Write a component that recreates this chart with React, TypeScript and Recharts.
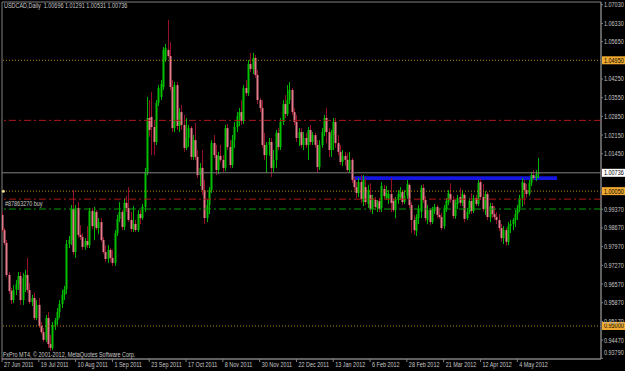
import { ComposedChart, Bar, XAxis, YAxis, ReferenceLine, ReferenceArea, ReferenceDot } from "recharts";

const FONT = "'Liberation Sans', Arial, sans-serif";
const SQUEEZE = 0.78;

// USDCAD daily, 27 Jun 2011 .. 17 May 2012
const opens = [
  0.9916, 0.9859, 0.9811, 0.9691, 0.9631, 0.9597, 0.9635, 0.9657, 0.9687, 0.9597,
  0.968, 0.9691, 0.9635, 0.959, 0.9605, 0.953, 0.9579, 0.95, 0.9477, 0.9448,
  0.953, 0.9432, 0.9418, 0.9504, 0.9522, 0.9552, 0.9582, 0.9616, 0.9638, 0.9807,
  0.9822, 0.9938, 0.9777, 0.9942, 0.9841, 0.9833, 0.9796, 0.9818, 0.9803, 0.9931,
  0.9874, 0.9927, 0.9867, 0.9889, 0.9822, 0.9777, 0.9751, 0.9785, 0.9755, 0.9736,
  0.9848, 0.9901, 0.9927, 0.9871, 0.9961, 0.9942, 0.9897, 0.9863, 0.9882, 0.9859,
  0.9919, 0.9904, 0.9946, 1.0077, 1.0279, 1.0283, 1.0245, 1.0189, 1.0335, 1.0358,
  1.0395, 1.0496, 1.0534, 1.0511, 1.0395, 1.0241, 1.0402, 1.0249, 1.0301, 1.0253,
  1.0167, 1.0204, 1.0241, 1.0133, 1.0196, 1.0133, 1.0065, 1.0092, 1.0009, 0.9904,
  0.9953, 1.0009, 1.0185, 1.014, 1.0084, 1.0137, 1.0122, 1.0092, 1.0241, 1.017,
  1.0103, 1.0196, 1.0245, 1.0286, 1.0301, 1.0268, 1.0391, 1.0372, 1.0481, 1.0462,
  1.0504, 1.044, 1.0346, 1.0316, 1.0178, 1.014, 1.0178, 1.0189, 1.0092, 1.0122,
  1.0223, 1.017, 1.0264, 1.0331, 1.0294, 1.0346, 1.0384, 1.0301, 1.0264, 1.0204,
  1.0226, 1.0178, 1.0204, 1.0178, 1.0234, 1.0189, 1.0215, 1.0178, 1.0095, 1.0178,
  1.0226, 1.0279, 1.0226, 1.0159, 1.0215, 1.0264, 1.0185, 1.0152, 1.0114, 1.0137,
  1.0122, 1.0084, 1.0122, 1.0047, 1.002, 0.9998, 1.0039, 0.9964, 1.002, 0.9957,
  0.9991, 0.9938, 0.9972, 0.9942, 0.9968, 0.9942, 1.0013, 0.9979, 0.9976, 0.9994,
  0.9968, 0.9934, 0.9972, 0.9983, 1.0002, 0.9964, 0.9987, 1.0028, 0.9953, 0.9897,
  0.9856, 0.9904, 0.9927, 1.0017, 0.9972, 0.9897, 0.9934, 0.9889, 0.9931, 0.9946,
  0.9916, 0.9908, 0.9874, 0.9938, 0.9964, 0.9994, 0.9972, 0.9912, 0.9957, 0.9983,
  0.9961, 0.9991, 0.9904, 0.9927, 0.9968, 0.9931, 0.9979, 0.9957, 1.0039, 0.9983,
  0.9938, 0.9994, 0.9908, 0.9949, 0.9919, 0.9908, 0.9897, 0.9867, 0.9829, 0.9859,
  0.9815, 0.9874, 0.9882, 0.9897, 0.9919, 0.9942, 0.9979, 1.0035, 1.0009, 0.9994,
  1.0035, 1.0065, 1.0054, 1.00696,
];

const highs = [
  0.9927, 0.9867, 0.9822, 0.9702, 0.9642, 0.9653, 0.9672, 0.9702, 0.9702, 0.9698,
  0.971, 0.9755, 0.9661, 0.9616, 0.9624, 0.9597, 0.9605, 0.9515, 0.9492, 0.9541,
  0.9552, 0.9466, 0.9515, 0.953, 0.9567, 0.9597, 0.9635, 0.965, 0.9822, 0.9837,
  0.9953, 1.0009, 0.9953, 0.9964, 0.9878, 0.9848, 0.9829, 0.9874, 0.9942, 0.9942,
  0.9946, 0.9934, 0.9904, 0.9904, 0.9833, 0.9803, 0.9803, 0.9792, 0.9785, 0.9859,
  0.9916, 0.9964, 0.9934, 0.9979, 0.9987, 1.002, 0.9927, 0.9949, 0.9897, 0.9934,
  0.9934, 0.9957, 1.0092, 1.0358, 1.0346, 1.0376, 1.0271, 1.0346, 1.0402, 1.0421,
  1.0545, 1.0556, 1.0646, 1.0563, 1.0421, 1.0414, 1.0414, 1.0316, 1.0328, 1.029,
  1.0279, 1.0253, 1.0249, 1.0215, 1.026, 1.0159, 1.011, 1.0159, 1.0047, 0.9972,
  1.002, 1.0196, 1.0215, 1.0178, 1.0152, 1.0178, 1.014, 1.0253, 1.0256, 1.0196,
  1.0215, 1.0264, 1.0301, 1.0316, 1.0346, 1.0402, 1.0421, 1.0496, 1.0522, 1.0522,
  1.0515, 1.0459, 1.0354, 1.0346, 1.0223, 1.0189, 1.0204, 1.0204, 1.0159, 1.0234,
  1.0241, 1.0279, 1.0346, 1.0365, 1.0402, 1.0414, 1.0391, 1.0316, 1.029, 1.0241,
  1.0241, 1.0226, 1.0223, 1.0245, 1.0253, 1.0226, 1.0223, 1.0196, 1.0196, 1.0241,
  1.029, 1.0316, 1.0241, 1.0234, 1.0279, 1.0279, 1.0215, 1.0178, 1.0159, 1.0152,
  1.0148, 1.0152, 1.0129, 1.0058, 1.0039, 1.0054, 1.0065, 1.0065, 1.0054, 1.0028,
  1.0035, 0.9991, 0.9983, 0.9972, 0.9979, 1.0039, 1.0028, 1.0024, 1.0009, 1.0054,
  0.9979, 0.9983, 1.0009, 1.002, 1.0009, 1.0009, 1.0047, 1.0035, 0.9964, 0.9916,
  0.9919, 0.9953, 1.0028, 1.0032, 0.9987, 0.9953, 0.9942, 0.9946, 0.9957, 0.9953,
  0.9942, 0.9923, 0.9953, 0.9979, 1.0009, 1.0035, 0.9987, 0.9972, 0.9991, 1.0017,
  1.0009, 0.9998, 0.9942, 0.9979, 0.9998, 0.9991, 0.9991, 1.0047, 1.005, 1.0032,
  1.0005, 1.0002, 0.9961, 0.9961, 0.9949, 0.9927, 0.9919, 0.9882, 0.9874, 0.9867,
  0.9889, 0.9897, 0.9904, 0.9934, 0.9953, 0.9991, 1.0054, 1.0047, 1.0032, 1.0047,
  1.0077, 1.0084, 1.0084, 1.01291,
];

const lows = [
  0.9852, 0.9803, 0.9683, 0.962, 0.9582, 0.9586, 0.9616, 0.9635, 0.9579, 0.9579,
  0.9627, 0.9624, 0.9582, 0.9575, 0.9522, 0.9522, 0.9492, 0.947, 0.944, 0.944,
  0.9418, 0.9406, 0.941, 0.9485, 0.9504, 0.953, 0.9567, 0.9597, 0.962, 0.9792,
  0.9803, 0.9766, 0.9755, 0.9829, 0.9822, 0.9785, 0.9785, 0.9792, 0.9792, 0.9863,
  0.9822, 0.9859, 0.9844, 0.9815, 0.977, 0.974, 0.9736, 0.974, 0.9725, 0.9725,
  0.9837, 0.9889, 0.9859, 0.9859, 0.9927, 0.9889, 0.9852, 0.9852, 0.9852, 0.9852,
  0.9882, 0.9897, 0.9927, 1.0065, 1.0208, 1.014, 1.014, 1.0178, 1.0324, 1.0346,
  1.0384, 1.0489, 1.0504, 1.0384, 1.0226, 1.0226, 1.0234, 1.0226, 1.0234, 1.0152,
  1.0159, 1.017, 1.0122, 1.0122, 1.0122, 1.0054, 1.0024, 0.9991, 0.9882, 0.9889,
  0.9919, 0.9998, 1.0129, 1.0065, 1.0069, 1.0114, 1.0077, 1.008, 1.0159, 1.0092,
  1.0092, 1.0167, 1.0226, 1.0249, 1.0253, 1.0256, 1.0361, 1.0361, 1.0451, 1.0444,
  1.0429, 1.0331, 1.0301, 1.0167, 1.0122, 1.0073, 1.0137, 1.0058, 1.0077, 1.0092,
  1.0159, 1.0159, 1.0253, 1.0279, 1.0286, 1.0331, 1.029, 1.0253, 1.0189, 1.0174,
  1.0167, 1.0159, 1.0167, 1.0122, 1.0178, 1.0178, 1.0167, 1.0073, 1.0084, 1.0167,
  1.0211, 1.0185, 1.0133, 1.0133, 1.0159, 1.0167, 1.014, 1.0103, 1.0099, 1.0099,
  1.0077, 1.0073, 1.0035, 1.0009, 0.9979, 0.9983, 0.9961, 0.9949, 0.9953, 0.9942,
  0.9927, 0.9919, 0.9934, 0.9927, 0.9927, 0.9927, 0.9976, 0.9972, 0.9957, 0.9927,
  0.9927, 0.9904, 0.9957, 0.9972, 0.9953, 0.9957, 0.9976, 0.9942, 0.9848, 0.9841,
  0.9837, 0.9882, 0.9904, 0.9961, 0.9893, 0.9882, 0.9878, 0.9882, 0.9919, 0.9904,
  0.9901, 0.9859, 0.9863, 0.9927, 0.9953, 0.9961, 0.9901, 0.9901, 0.9938, 0.9949,
  0.9949, 0.9889, 0.9897, 0.9919, 0.9919, 0.9923, 0.9949, 0.9949, 0.9972, 0.9927,
  0.9916, 0.9897, 0.9889, 0.9904, 0.9897, 0.9882, 0.9856, 0.9815, 0.9807, 0.98,
  0.9803, 0.9848, 0.9859, 0.9871, 0.9897, 0.9927, 0.9946, 0.9953, 0.9979, 0.9987,
  1.0024, 1.0047, 1.0043, 1.00531,
];

const closes = [
  0.9859, 0.9811, 0.9691, 0.9631, 0.9597, 0.9635, 0.9657, 0.9687, 0.9597, 0.968,
  0.9691, 0.9635, 0.959, 0.9605, 0.953, 0.9579, 0.95, 0.9477, 0.9448, 0.953,
  0.9432, 0.9418, 0.9504, 0.9522, 0.9552, 0.9582, 0.9616, 0.9638, 0.9807, 0.9822,
  0.9938, 0.9777, 0.9942, 0.9841, 0.9833, 0.9796, 0.9818, 0.9803, 0.9931, 0.9874,
  0.9927, 0.9867, 0.9889, 0.9822, 0.9777, 0.9751, 0.9785, 0.9755, 0.9736, 0.9848,
  0.9901, 0.9927, 0.9871, 0.9961, 0.9942, 0.9897, 0.9863, 0.9882, 0.9859, 0.9919,
  0.9904, 0.9946, 1.0077, 1.0279, 1.0234, 1.0245, 1.0189, 1.0335, 1.0391, 1.0406,
  1.0534, 1.0541, 1.0511, 1.0395, 1.0241, 1.0402, 1.0249, 1.0301, 1.0253, 1.0167,
  1.0204, 1.0241, 1.0133, 1.0196, 1.0133, 1.0065, 1.0092, 1.0009, 0.9904, 0.9953,
  1.0009, 1.0185, 1.014, 1.0084, 1.0137, 1.0122, 1.0092, 1.0241, 1.017, 1.0103,
  1.0196, 1.0245, 1.0286, 1.0301, 1.0268, 1.0391, 1.0372, 1.0481, 1.0462, 1.0504,
  1.044, 1.0346, 1.0316, 1.0178, 1.014, 1.0178, 1.0189, 1.0092, 1.0122, 1.0223,
  1.017, 1.0264, 1.0331, 1.0294, 1.0346, 1.0384, 1.0301, 1.0264, 1.0204, 1.0226,
  1.0178, 1.0204, 1.0178, 1.0234, 1.0189, 1.0215, 1.0178, 1.0095, 1.0178, 1.0226,
  1.0279, 1.0226, 1.0159, 1.0215, 1.0264, 1.0185, 1.0152, 1.0114, 1.0137, 1.0122,
  1.0084, 1.0122, 1.0047, 1.002, 0.9998, 1.0039, 0.9976, 1.0047, 0.9964, 1.0009,
  0.9938, 0.9979, 0.9946, 0.9961, 0.9938, 1.0024, 0.9987, 0.9998, 0.9994, 0.9961,
  0.9934, 0.9976, 0.9994, 1.0002, 0.9964, 0.9987, 1.0032, 0.9953, 0.9897, 0.9859,
  0.9908, 0.9938, 1.0017, 0.9972, 0.9904, 0.9934, 0.9889, 0.9934, 0.9946, 0.9916,
  0.9908, 0.9867, 0.9942, 0.9968, 0.9998, 0.9972, 0.9912, 0.9961, 0.9979, 0.9961,
  0.9994, 0.9901, 0.9927, 0.9968, 0.9931, 0.9979, 0.9957, 1.0035, 0.9983, 0.9938,
  0.9994, 0.9908, 0.9949, 0.9919, 0.9908, 0.9897, 0.9867, 0.9829, 0.9859, 0.9815,
  0.9874, 0.9882, 0.9897, 0.9919, 0.9942, 0.9979, 1.0039, 1.0009, 0.9994, 1.0035,
  1.0065, 1.0054, 1.0069, 1.00736,
];

const dateTicks = [0, 16, 32, 48, 64, 80, 96, 112, 128, 144, 160, 176, 192, 208, 224];
const dateLabels = [
  "27 Jun 2011", "19 Jul 2011", "10 Aug 2011", "1 Sep 2011", "23 Sep 2011",
  "17 Oct 2011", "8 Nov 2011", "30 Nov 2011", "22 Dec 2011", "13 Jan 2012",
  "6 Feb 2012", "28 Feb 2012", "21 Mar 2012", "12 Apr 2012", "4 May 2012",
];

const priceTicks = [
  1.0703, 1.0633, 1.0565, 1.0425, 1.0355, 1.0285, 1.0215, 1.0145,
  0.9937, 0.9867, 0.9797, 0.9727, 0.9657, 0.9587, 0.9517, 0.9447, 0.9379,
];

const orangeLevels = [1.0495, 1.0005, 0.95];
const redLevels = [1.027, 0.9975];
const orderLevel = 0.9938;
const lastPrice = 1.00736;
const blueZone = { from: 153, to: 241.3, low: 1.0047, high: 1.0061 };

const rows = closes.map((c, i) => ({ i, open: opens[i], high: highs[i], low: lows[i], close: c }));

const Y_MIN = 0.93763;
const Y_MAX = 1.07133;
const X_MAX = 260.4;

function Candle(props: any) {
  const { x, y, width, height, payload } = props;
  if (!payload) return null;
  const { open, close, high, low } = payload;
  const top = Math.min(y, y + height);
  const h = Math.abs(height);
  const k = h / (high - low || 1);
  const yO = top + (high - open) * k;
  const yC = top + (high - close) * k;
  const cx = Math.round(x + width / 2);
  const up = close >= open;
  const bodyTop = Math.min(yO, yC);
  const bodyH = Math.max(1, Math.abs(yC - yO));
  return (
    <g>
      <line x1={cx + 0.5} x2={cx + 0.5} y1={top} y2={top + h} stroke={up ? "#00b400" : "#96102c"} strokeWidth={1} />
      <rect x={cx - 0.5} y={bodyTop} width={2} height={bodyH} fill={up ? "#00c000" : "#e67a8a"} />
    </g>
  );
}

// small squeezed text, mimicking the terminal's narrow pixel font
function Small({ x, y, fill = "#c8c8c8", children }: any) {
  return (
    <text
      transform={`translate(${x},${y}) scale(${SQUEEZE},1)`}
      x={0}
      y={0}
      fill={fill}
      fontSize={7}
      fontFamily={FONT}
    >
      {children}
    </text>
  );
}

function PriceTick(props: any) {
  const { x, y, payload } = props;
  const dy = payload.value < 0.938 ? -6 : 0;
  return <Small x={x} y={y + 2.5 + dy}>{payload.value.toFixed(5)}</Small>;
}

function DateTick(props: any) {
  const { x, y, payload } = props;
  const label = dateLabels[dateTicks.indexOf(payload.value)];
  return <Small x={x + 2} y={y + 5}>{label}</Small>;
}

const priceBox = (text: string, bg: string) => (props: any) => {
  const vb = props.viewBox;
  if (!vb) return null;
  const x = vb.x + vb.width;
  return (
    <g>
      <rect x={x + 1} y={vb.y - 4} width={24} height={8} fill={bg} />
      <Small x={x + 3} y={vb.y + 2.5} fill="#000">{text}</Small>
    </g>
  );
};

const orderLabel = (props: any) => {
  const vb = props.viewBox;
  if (!vb) return null;
  return <Small x={vb.x + 3} y={vb.y - 3}>#87863270 buy</Small>;
};

const overlayText = {
  position: "absolute" as const,
  fontSize: 7,
  lineHeight: "8px",
  color: "#c8c8c8",
  fontFamily: FONT,
  whiteSpace: "pre" as const,
  transform: `scaleX(${SQUEEZE})`,
  transformOrigin: "0 0",
};

export default function App() {
  return (
    <div style={{ position: "relative", width: 625, height: 371, background: "#000", overflow: "hidden" }}>
      <style>{"body{margin:0;background:#000}"}</style>
      <ComposedChart width={625} height={371} data={rows} margin={{ top: 2, right: 0, bottom: 0, left: 2 }}>
        <XAxis
          dataKey="i"
          type="number"
          domain={[0, X_MAX]}
          allowDataOverflow
          ticks={dateTicks}
          interval={0}
          height={12}
          tickSize={3}
          tickMargin={0}
          stroke="#808080"
          tickLine={{ stroke: "#808080" }}
          tick={<DateTick />}
        />
        <YAxis
          orientation="right"
          type="number"
          domain={[Y_MIN, Y_MAX]}
          allowDataOverflow
          ticks={priceTicks}
          interval={0}
          width={24}
          tickSize={2}
          tickMargin={1}
          stroke="#808080"
          tickLine={{ stroke: "#808080" }}
          tick={<PriceTick />}
        />
        <ReferenceArea x1={0} x2={X_MAX} y1={Y_MIN} y2={Y_MAX} fill="none" stroke="#808080" strokeWidth={1} />
        {orangeLevels.map((v) => (
          <ReferenceLine
            key={"o" + v}
            y={v}
            stroke="#b88a10"
            strokeDasharray="1 2"
            label={priceBox(v.toFixed(5), "#f0aa30")}
          />
        ))}
        {redLevels.map((v) => (
          <ReferenceLine key={"r" + v} y={v} stroke="#b01818" strokeDasharray="7 3 2 3" />
        ))}
        <ReferenceLine y={orderLevel} stroke="#00a000" strokeDasharray="7 3 2 3" label={orderLabel} />
        <ReferenceLine y={lastPrice} stroke="#808080" label={priceBox(lastPrice.toFixed(5), "#ffffff")} />
        <ReferenceArea
          x1={blueZone.from}
          x2={blueZone.to}
          y1={blueZone.low}
          y2={blueZone.high}
          fill="#1616e0"
          fillOpacity={1}
          stroke="none"
        />
        <ReferenceDot x={0.6} y={1.0005} r={1.5} fill="#f0e090" stroke="none" />
        <Bar
          dataKey={(d: any) => [d.low, d.high]}
          barSize={3}
          shape={<Candle />}
          isAnimationActive={false}
        />
      </ComposedChart>
      <div style={{ ...overlayText, left: 4, top: 2 }}>{"USDCAD,Daily  1.00696 1.01291 1.00531 1.00736"}</div>
      <div style={{ ...overlayText, left: 3, top: 351 }}>{"FxPro MT4, © 2001-2012, MetaQuotes Software Corp."}</div>
    </div>
  );
}
